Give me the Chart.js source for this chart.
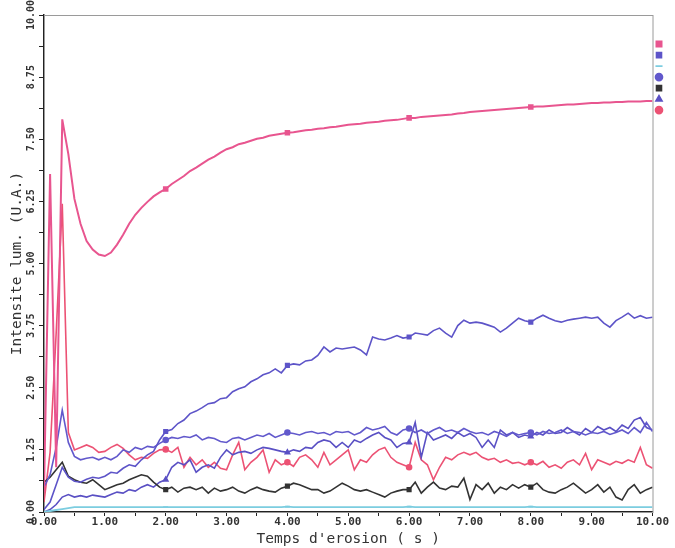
<!DOCTYPE html>
<html>
<head>
<meta charset="utf-8">
<script src="https://cdn.jsdelivr.net/npm/chart.js@4"></script>
<style>
  html, body { margin: 0; padding: 0; background: #fff; }
  #wrap { width: 675px; height: 548px; position: relative; }
</style>
</head>
<body>
<div id="wrap"><canvas id="c"></canvas></div>
<script>
// Glow-discharge depth profile: intensity vs erosion time (0.1 s sampling)
const TIMES = [
  0.0, 0.1, 0.2, 0.3, 0.4, 0.5, 0.6, 0.7, 0.8, 0.9,
  1.0, 1.1, 1.2, 1.3, 1.4, 1.5, 1.6, 1.7, 1.8, 1.9,
  2.0, 2.1, 2.2, 2.3, 2.4, 2.5, 2.6, 2.7, 2.8, 2.9,
  3.0, 3.1, 3.2, 3.3, 3.4, 3.5, 3.6, 3.7, 3.8, 3.9,
  4.0, 4.1, 4.2, 4.3, 4.4, 4.5, 4.6, 4.7, 4.8, 4.9,
  5.0, 5.1, 5.2, 5.3, 5.4, 5.5, 5.6, 5.7, 5.8, 5.9,
  6.0, 6.1, 6.2, 6.3, 6.4, 6.5, 6.6, 6.7, 6.8, 6.9,
  7.0, 7.1, 7.2, 7.3, 7.4, 7.5, 7.6, 7.7, 7.8, 7.9,
  8.0, 8.1, 8.2, 8.3, 8.4, 8.5, 8.6, 8.7, 8.8, 8.9,
  9.0, 9.1, 9.2, 9.3, 9.4, 9.5, 9.6, 9.7, 9.8, 9.9, 10.0
];

const PINK_MAIN = [
  0.4, 6.8, 0.9, 7.9, 7.2, 6.3, 5.8, 5.45, 5.28, 5.18,
  5.15, 5.22, 5.38, 5.58, 5.8, 5.98, 6.12, 6.24, 6.35, 6.43,
  6.5, 6.6, 6.68, 6.76, 6.86, 6.93, 7.01, 7.09, 7.15, 7.23,
  7.3, 7.34, 7.4, 7.43, 7.47, 7.51, 7.53, 7.57, 7.59, 7.61,
  7.63, 7.64, 7.66, 7.68, 7.69, 7.71, 7.72, 7.74, 7.75, 7.77,
  7.79, 7.8, 7.81, 7.83, 7.84, 7.85, 7.87, 7.88, 7.89, 7.91,
  7.93, 7.93, 7.95, 7.96, 7.97, 7.98, 7.99, 8.0, 8.02, 8.03,
  8.05, 8.06, 8.07, 8.08, 8.09, 8.1, 8.11, 8.12, 8.13, 8.14,
  8.15, 8.16, 8.16, 8.17, 8.18, 8.19, 8.2, 8.2, 8.21, 8.22,
  8.23, 8.23, 8.24, 8.24, 8.25, 8.25, 8.26, 8.26, 8.26, 8.27, 8.27
];

const BLUE_RISE = [
  0.05, 0.2, 0.55, 0.9, 0.7, 0.62, 0.6, 0.66, 0.7, 0.68,
  0.72, 0.8, 0.78, 0.88, 0.95, 0.92, 1.05, 1.15, 1.22, 1.45,
  1.62, 1.66, 1.78, 1.85, 1.98, 2.03, 2.1, 2.18, 2.2, 2.28,
  2.3, 2.42, 2.48, 2.52, 2.62, 2.68, 2.76, 2.8, 2.88, 2.8,
  2.95, 2.98, 2.96, 3.04, 3.06, 3.15, 3.32, 3.22, 3.3, 3.28,
  3.3, 3.32, 3.26, 3.16, 3.52, 3.48, 3.46, 3.5, 3.55, 3.5,
  3.52, 3.6, 3.58, 3.56, 3.65, 3.7, 3.6, 3.52, 3.75, 3.86,
  3.8, 3.82, 3.8, 3.76, 3.72, 3.62, 3.7, 3.8, 3.9, 3.85,
  3.82, 3.9, 3.96, 3.9, 3.85, 3.82, 3.86, 3.88, 3.9, 3.92,
  3.9, 3.92, 3.8, 3.72, 3.85, 3.92, 4.0, 3.9, 3.95, 3.9, 3.92
];

const CYAN_LOW = [
  0.0, 0.02, 0.04, 0.06, 0.08, 0.1, 0.1, 0.1, 0.1, 0.1,
  0.1, 0.1, 0.1, 0.1, 0.1, 0.1, 0.1, 0.1, 0.1, 0.1,
  0.1, 0.1, 0.1, 0.1, 0.1, 0.1, 0.1, 0.1, 0.1, 0.1,
  0.1, 0.1, 0.1, 0.1, 0.1, 0.1, 0.1, 0.1, 0.1, 0.1,
  0.11, 0.1, 0.1, 0.1, 0.1, 0.1, 0.1, 0.1, 0.1, 0.1,
  0.1, 0.1, 0.1, 0.1, 0.1, 0.1, 0.1, 0.1, 0.1, 0.1,
  0.11, 0.1, 0.1, 0.1, 0.1, 0.1, 0.1, 0.1, 0.1, 0.1,
  0.1, 0.1, 0.1, 0.1, 0.1, 0.1, 0.1, 0.1, 0.1, 0.1,
  0.11, 0.1, 0.1, 0.1, 0.1, 0.1, 0.1, 0.1, 0.1, 0.1,
  0.1, 0.1, 0.1, 0.1, 0.1, 0.1, 0.1, 0.1, 0.1, 0.1, 0.1
];

const BLUE_PEAK = [
  0.5, 0.75, 1.3, 2.05, 1.4, 1.12, 1.05, 1.08, 1.1, 1.05,
  1.1, 1.05, 1.12, 1.25, 1.2, 1.3, 1.26, 1.32, 1.3, 1.38,
  1.45, 1.5, 1.48, 1.52, 1.5, 1.55, 1.45, 1.5, 1.48, 1.42,
  1.4, 1.48, 1.5, 1.45, 1.5, 1.55, 1.52, 1.58, 1.5, 1.55,
  1.6, 1.58, 1.55, 1.6, 1.62, 1.58, 1.6, 1.55, 1.62, 1.6,
  1.62, 1.55, 1.6, 1.7, 1.65, 1.68, 1.72, 1.6, 1.55, 1.65,
  1.68, 1.6, 1.65, 1.58, 1.65, 1.7, 1.62, 1.65, 1.6, 1.68,
  1.62, 1.58, 1.6, 1.55, 1.62, 1.58, 1.52, 1.6, 1.55, 1.58,
  1.6, 1.55, 1.62, 1.58, 1.6, 1.65, 1.58, 1.62, 1.6, 1.55,
  1.6, 1.58, 1.62, 1.56, 1.6, 1.65, 1.58, 1.7, 1.6, 1.8, 1.62
];

const BLACK = [
  0.6, 0.7, 0.85, 1.0, 0.72, 0.65, 0.6, 0.58, 0.65, 0.55,
  0.45, 0.5, 0.55, 0.58, 0.65, 0.7, 0.75, 0.72, 0.6, 0.5,
  0.45, 0.5, 0.4, 0.48, 0.5, 0.45, 0.5, 0.38, 0.48, 0.42,
  0.45, 0.5, 0.42, 0.38, 0.45, 0.5, 0.45, 0.42, 0.4, 0.48,
  0.52, 0.58, 0.55, 0.5, 0.45, 0.45, 0.38, 0.42, 0.5, 0.58,
  0.52, 0.45, 0.42, 0.45, 0.4, 0.35, 0.3, 0.38, 0.42, 0.45,
  0.45, 0.6, 0.38, 0.5, 0.6, 0.48, 0.45, 0.52, 0.5, 0.68,
  0.25, 0.55, 0.45, 0.58, 0.38, 0.5, 0.45, 0.55, 0.48, 0.55,
  0.5, 0.58, 0.45, 0.4, 0.38, 0.45, 0.5, 0.58, 0.48, 0.38,
  0.45, 0.55, 0.4, 0.5, 0.3, 0.24, 0.45, 0.55, 0.38, 0.45, 0.5
];

const BLUE_LOW = [
  0.0, 0.05, 0.15, 0.3, 0.35, 0.3, 0.33, 0.3, 0.34, 0.32,
  0.3, 0.35, 0.4, 0.38, 0.45, 0.42, 0.5, 0.55, 0.5, 0.6,
  0.65, 0.9, 1.0, 0.95, 1.05, 0.8, 0.9, 0.95, 0.88, 1.1,
  1.25, 1.15, 1.2, 1.22, 1.18, 1.25, 1.3, 1.28, 1.25, 1.22,
  1.2, 1.25, 1.22, 1.3, 1.28, 1.4, 1.45, 1.42, 1.3, 1.4,
  1.3, 1.45, 1.4, 1.48, 1.55, 1.6, 1.5, 1.45, 1.3, 1.38,
  1.4, 1.8, 1.1, 1.6, 1.45, 1.5, 1.55, 1.48, 1.6, 1.52,
  1.58, 1.5, 1.3, 1.45, 1.3, 1.65, 1.55, 1.6, 1.5, 1.55,
  1.52, 1.6, 1.55, 1.65, 1.58, 1.6, 1.7, 1.62, 1.55, 1.68,
  1.6, 1.72, 1.65, 1.7, 1.62, 1.75, 1.68, 1.85, 1.9, 1.7, 1.65
];

const PINK_NOISY = [
  0.2, 1.2, 3.6, 6.2, 1.6, 1.25, 1.3, 1.35, 1.3, 1.2,
  1.22, 1.3, 1.36, 1.28, 1.15, 1.05, 1.1, 1.08, 1.18, 1.25,
  1.26, 1.2, 1.3, 0.9, 1.1, 0.95, 1.05, 0.9, 1.0, 0.88,
  0.85, 1.15, 1.4, 0.85, 1.0, 1.1, 1.25, 0.8, 1.05, 0.95,
  1.0, 0.92, 1.1, 1.15, 1.05, 0.9, 1.2, 0.95, 1.05, 1.15,
  1.25, 0.85, 1.05, 1.0, 1.15, 1.25, 1.3, 1.1, 1.0, 0.95,
  0.9, 1.4, 1.05, 0.95, 0.65, 0.9, 1.1, 1.05, 1.15, 1.2,
  1.15, 1.2, 1.1, 1.05, 1.08, 1.0, 1.05, 0.98, 1.0, 0.95,
  1.0, 0.95, 1.02, 0.9, 0.95, 0.88, 1.0, 1.05, 0.95, 1.18,
  0.85, 1.05, 1.0, 0.95, 1.02, 0.98, 1.05, 1.0, 1.3, 0.95, 0.88
];

const X_TICK_LABELS = ["0.00","1.00","2.00","3.00","4.00","5.00","6.00","7.00","8.00","9.00","10.00"];
const Y_TICK_LABELS = ["0.00","1.25","2.50","3.75","5.00","6.25","7.50","8.75","10.00"];
const MARK_TIMES = [2, 4, 6, 8];

const FONT = '"DejaVu Sans Mono", "Liberation Mono", monospace';

function series(label, values, color, pointStyle, width) {
  return {
    label,
    data: TIMES.map((t, i) => ({ x: t, y: values[i] })),
    borderColor: color,
    backgroundColor: color,
    borderWidth: width || 1.6,
    pointStyle,
    pointRadius: ctx => MARK_TIMES.includes(TIMES[ctx.dataIndex]) ? 2.5 : 0,
    pointHoverRadius: 0,
    tension: 0
  };
}

const datasets = [
  series("H", PINK_MAIN, "#e8558f", "rect", 2),
  series("B", BLUE_RISE, "#5d54c8", "rect"),
  series("-", CYAN_LOW, "#7ccde0", "line", 1.8),
  series("O", BLUE_PEAK, "#6259cc", "circle"),
  series("C", BLACK, "#333333", "rect"),
  series("N", BLUE_LOW, "#5a50c4", "triangle"),
  series("Fe", PINK_NOISY, "#ec5274", "circle")
];

// grey frame around the plot area (top/right sides)
const frame = {
  id: "frame",
  beforeDatasetsDraw(chart) {
    const a = chart.chartArea, c = chart.ctx;
    c.save();
    c.strokeStyle = "#9a9a9a";
    c.lineWidth = 1;
    c.strokeRect(a.left + 0.5, a.top + 0.5, a.right - a.left, a.bottom - a.top);
    c.restore();
  }
};

const near = (v, list) => list.find(s => Math.abs(parseFloat(s) - v) < 1e-6);

new Chart(document.getElementById("c"), {
  type: "line",
  data: { datasets },
  plugins: [frame],
  options: {
    responsive: true,
    maintainAspectRatio: false,
    animation: false,
    events: [],
    layout: { padding: { top: 15, left: 9, right: 0, bottom: 0 } },
    plugins: {
      tooltip: { enabled: false },
      legend: {
        position: "right",
        align: "start",
        title: { display: true, text: "", padding: 6, font: { size: 8 } },
        labels: {
          usePointStyle: true,
          boxWidth: 5,
          boxHeight: 5,
          padding: 4,
          font: { family: FONT, size: 7 },
          generateLabels: chart =>
            Chart.defaults.plugins.legend.labels.generateLabels(chart).map(l => ({ ...l, text: "" }))
        }
      }
    },
    scales: {
      x: {
        type: "linear",
        min: 0,
        max: 10,
        afterFit: s => { s.height = 36; },
        grid: { display: true, drawOnChartArea: false, tickLength: 4, color: "#222" },
        border: { color: "#222", width: 1.5 },
        ticks: {
          stepSize: 0.5,
          autoSkip: false,
          maxRotation: 0,
          padding: 0,
          color: "#333",
          font: { family: FONT, size: 11, weight: "bold" },
          callback: v => near(v, X_TICK_LABELS) || ""
        },
        title: {
          display: true,
          text: "Temps d'erosion ( s )",
          color: "#333",
          padding: { top: 0, bottom: 0 },
          font: { family: FONT, size: 14.5 }
        }
      },
      y: {
        min: 0,
        max: 10,
        afterFit: s => { s.width = 35; },
        grid: { display: true, drawOnChartArea: false, tickLength: 5, color: "#222" },
        border: { color: "#222", width: 1.5 },
        ticks: {
          stepSize: 0.625,
          autoSkip: false,
          minRotation: 90,
          maxRotation: 90,
          crossAlign: "center",
          padding: -7,
          color: "#333",
          font: { family: FONT, size: 10, weight: "bold" },
          callback: v => near(v, Y_TICK_LABELS) || ""
        },
        title: {
          display: true,
          text: "Intensite lum. (U.A.)",
          color: "#333",
          padding: { top: 0, bottom: 0 },
          font: { family: FONT, size: 14.5 }
        }
      }
    }
  }
});
</script>
</body>
</html>
